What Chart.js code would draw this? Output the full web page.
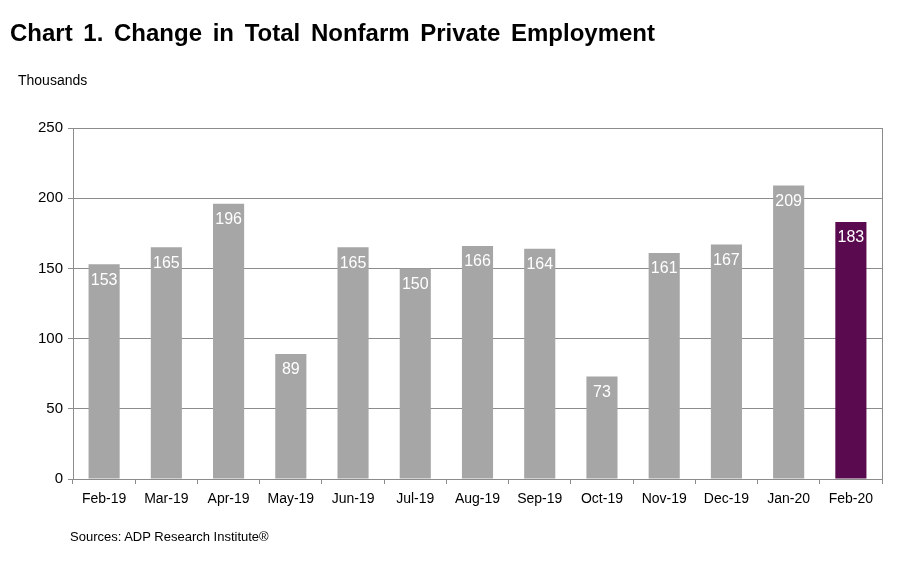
<!DOCTYPE html>
<html>
<head>
<meta charset="utf-8">
<script src="https://cdn.jsdelivr.net/npm/chart.js@4"></script>
<style>
  body { margin: 0; background: #fff; }
  #wrap { position: relative; width: 910px; height: 562px; font-family: "Liberation Sans", Arial, sans-serif; }
  #title { position: absolute; left: 10px; top: 19px; font-size: 24px; font-weight: bold; color: #000; word-spacing: 4px; white-space: nowrap; }
  #unit { position: absolute; left: 18px; top: 72px; font-size: 14px; color: #000; }
  #source { position: absolute; left: 70px; top: 529px; font-size: 13px; color: #000; }
  canvas { position: absolute; left: 0; top: 0; }
</style>
</head>
<body>
<div id="wrap">
  <canvas id="myChart" width="910" height="562"></canvas>
  <div id="title">Chart 1. Change in Total Nonfarm Private Employment</div>
  <div id="unit">Thousands</div>
  <div id="source">Sources: ADP Research Institute®</div>
</div>
<script>
const months = ['Feb-19', 'Mar-19', 'Apr-19', 'May-19', 'Jun-19', 'Jul-19', 'Aug-19',
  'Sep-19', 'Oct-19', 'Nov-19', 'Dec-19', 'Jan-20', 'Feb-20'];
const jobChange = [153, 165, 196, 89, 165, 150, 166, 164, 73, 161, 167, 209, 183];
const yTicks = [0, 50, 100, 150, 200, 250];

const grayBar = '#a6a6a6';
const lastBar = '#5a0a4e';
const gridColor = '#8c8c8c';

// etiquetas blancas dentro de cada barra + borde derecho del area
const barLabels = {
  id: 'barLabels',
  afterDatasetsDraw(chart) {
    const ctx = chart.ctx;
    const meta = chart.getDatasetMeta(0);
    ctx.save();
    ctx.fillStyle = '#fff';
    ctx.font = '16px "Liberation Sans", Arial, sans-serif';
    ctx.textAlign = 'center';
    ctx.textBaseline = 'middle';
    meta.data.forEach((bar, i) => {
      ctx.fillText(jobChange[i], bar.x, bar.y + 16);
    });
    const a = chart.chartArea;
    ctx.strokeStyle = gridColor;
    ctx.lineWidth = 1;
    ctx.beginPath();
    ctx.moveTo(Math.round(a.right) + 0.5, a.top);
    ctx.lineTo(Math.round(a.right) + 0.5, a.bottom);
    ctx.stroke();
    ctx.restore();
  }
};

new Chart(document.getElementById('myChart').getContext('2d'), {
  type: 'bar',
  data: {
    labels: months,
    datasets: [{
      data: jobChange,
      backgroundColor: jobChange.map((_, i) => i === jobChange.length - 1 ? lastBar : grayBar),
      barPercentage: 0.5,
      categoryPercentage: 1
    }]
  },
  options: {
    responsive: false,
    animation: false,
    layout: { padding: { left: 0, top: 128, right: 28, bottom: 0 } },
    plugins: { legend: { display: false }, tooltip: { enabled: false } },
    scales: {
      x: {
        afterFit: scale => { scale.height = 83; },
        grid: { drawOnChartArea: false, offset: true, color: gridColor, tickLength: 5 },
        border: { color: gridColor },
        ticks: { color: '#000', padding: 7, maxRotation: 0, autoSkip: false,
          font: { family: '"Liberation Sans", Arial, sans-serif', size: 14 } }
      },
      y: {
        min: 0,
        max: 250,
        afterFit: scale => { scale.width = 73; },
        afterBuildTicks: scale => { scale.ticks = yTicks.map(v => ({ value: v })); },
        grid: { color: gridColor, tickLength: 5 },
        border: { color: gridColor },
        ticks: { color: '#000', padding: 5,
          font: { family: '"Liberation Sans", Arial, sans-serif', size: 15 } }
      }
    }
  },
  plugins: [barLabels]
});
</script>
</body>
</html>
